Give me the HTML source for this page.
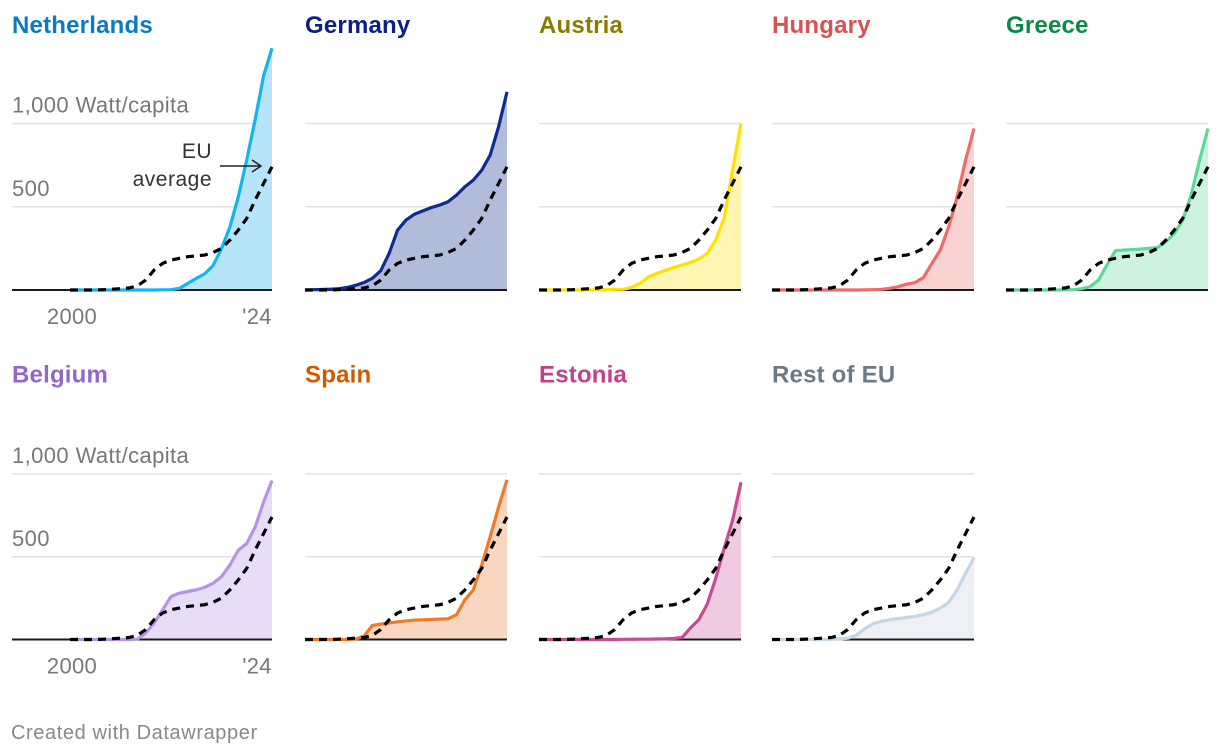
<!DOCTYPE html>
<html><head><meta charset="utf-8"><style>
body{margin:0;background:#fff;width:1220px;height:756px;overflow:hidden;font-family:"Liberation Sans",sans-serif}
svg{position:absolute;left:0;top:0}
</style></head><body>
<svg id="chart" width="1220" height="756"></svg>
<script>
const years = [2000,2001,2002,2003,2004,2005,2006,2007,2008,2009,2010,2011,2012,2013,2014,2015,2016,2017,2018,2019,2020,2021,2022,2023,2024];
const euAverage = [0,0,0,0,2,5,8,12,25,60,120,160,180,190,200,205,210,225,250,300,360,430,540,640,740];
const netherlands = [0,0,0,0,0,0,0,0,0,0,0,1,2,10,40,70,97,147,248,379,560,782,1024,1286,1452];
const germany = [0,2,3,5,8,15,28,45,70,116,220,360,420,455,475,495,510,530,570,620,660,720,810,980,1190];
const austria = [0,0,0,0,0,0,1,2,3,4,5,15,40,78,100,118,135,150,165,185,220,300,430,720,1000];
const hungary = [0,0,0,0,0,0,0,0,0,0,0,1,2,4,10,20,35,45,75,160,240,380,560,780,970];
const greece = [0,0,0,0,0,0,0,1,2,8,20,60,150,237,240,243,246,250,255,290,340,420,570,780,970];
const belgium = [0,0,0,0,0,0,0,0,2,40,100,180,260,280,290,300,315,340,380,450,540,580,680,830,960];
const spain = [0,0,0,0,0,0,2,20,85,93,100,107,112,117,119,121,123,125,150,240,300,450,620,800,965];
const estonia = [0,0,0,0,0,0,0,0,0,0,1,1,2,2,3,4,6,12,70,120,215,370,550,720,950];
const restOfEu = [0,0,0,0,0,0,0,1,3,8,25,65,95,110,120,127,133,140,150,165,190,225,300,400,495];
const gridTicks = [500,1000];
const tickLabels = ["500","1,000 Watt/capita"];
const xTickLabels = ["2000","'24"];

const panels = [
 {name:"Netherlands",data:netherlands,title:"#0a7bc1",line:"#12b4f2",fill:"#b6e5fa",col:0,row:0},
 {name:"Germany",data:germany,title:"#0b2181",line:"#0f2b8c",fill:"#b1bcdb",col:1,row:0},
 {name:"Austria",data:austria,title:"#8a7c00",line:"#ffe100",fill:"#fff5b3",col:2,row:0},
 {name:"Hungary",data:hungary,title:"#d75252",line:"#ee6b69",fill:"#f9d3d2",col:3,row:0},
 {name:"Greece",data:greece,title:"#0b8a47",line:"#5cd99a",fill:"#cdf2de",col:4,row:0},
 {name:"Belgium",data:belgium,title:"#9466c8",line:"#b594e6",fill:"#e8ddf6",col:0,row:1},
 {name:"Spain",data:spain,title:"#d05a00",line:"#f07a2a",fill:"#f9d6bf",col:1,row:1},
 {name:"Estonia",data:estonia,title:"#c43f8a",line:"#c54b92",fill:"#eecbe1",col:2,row:1},
 {name:"Rest of EU",data:restOfEu,title:"#6b7a85",line:"#c6d6e4",fill:"#edf1f5",col:3,row:1}
];
const NS="http://www.w3.org/2000/svg";
const svg=document.getElementById('chart');
function mk(tag,attrs,parent){const e=document.createElementNS(NS,tag);for(const k in attrs)e.setAttribute(k,attrs[k]);(parent||svg).appendChild(e);return e;}
const colX=[70,305,539,772,1006];
const rowBase=[290,639.5];
const rowScale=[0.1665,0.1655];
const PW=202;
panels.forEach(p=>{
  const g=mk('g',{});
  
  
  const x0=colX[p.col], base=rowBase[p.row], sc=rowScale[p.row];
  const xs=y=>x0+(y-years[0])/(years[years.length-1]-years[0])*PW;
  const ys=v=>base-v*sc;
  const gridStart = p.col===0?12:x0;
  const t=mk('text',{x:p.col===0?12:x0,y:base-257,'font-size':24,'font-weight':'bold','letter-spacing':0.2,fill:p.title},g);
  t.textContent=p.name;
  
  
  gridTicks.forEach((v,i)=>{
    const l=mk('line',{x1:gridStart,x2:x0+PW,y1:ys(v),y2:ys(v),stroke:'#e2e2e2','stroke-width':1.5},g);
    
    
    if(p.col===0){
      const tx=mk('text',{x:12,y:ys(v)-11,'font-size':22,'letter-spacing':0.4,fill:'#777'},g);
      tx.textContent=tickLabels[i];
      
      
    }
  });
  let d='M'+xs(years[0])+','+ys(0);
  p.data.forEach((v,i)=>{d+='L'+xs(years[i])+','+ys(v);});
  d+='L'+xs(years[years.length-1])+','+ys(0)+'Z';
  const a=mk('path',{d:d,fill:p.fill},g);
  
  
  const bl=mk('line',{x1:gridStart,x2:x0+PW,y1:base,y2:base,stroke:'#1a1a1a','stroke-width':2},g);
  
  
  const pts=p.data.map((v,i)=>xs(years[i])+','+ys(v)).join(' ');
  const ln=mk('polyline',{points:pts,fill:'none',stroke:p.line,'stroke-width':3.2,'stroke-linejoin':'round'},g);
  
  
  const ep=euAverage.map((v,i)=>xs(years[i])+','+ys(v)).join(' ');
  const el=mk('polyline',{points:ep,fill:'none',stroke:'#000','stroke-width':3.2,'stroke-dasharray':'8 6'},g);
  
  
  if(p.col===0){
    [years[0],years[years.length-1]].forEach((yr,i)=>{
      const tx=mk('text',{x:xs(yr)+(i==0?2:-15),y:base+34,'font-size':22,'letter-spacing':0.3,fill:'#777','text-anchor':'middle'},g);
      tx.textContent=xTickLabels[i];
      
      
    });
  }
});
// annotation
const an=mk('g',{});


const t1=mk('text',{x:212,y:158,'font-size':21,'letter-spacing':0.5,fill:'#333','text-anchor':'end'},an);t1.textContent='EU';
const t2=mk('text',{x:212,y:186,'font-size':21,'letter-spacing':0.5,fill:'#333','text-anchor':'end'},an);t2.textContent='average';
mk('line',{x1:220,x2:260,y1:166,y2:166,stroke:'#222','stroke-width':1.5},an);
mk('path',{d:'M252,160 L261,166 L252,172',fill:'none',stroke:'#222','stroke-width':1.5},an);
const ft=mk('text',{x:11,y:739,'font-size':20,'letter-spacing':0.6,fill:'#888'});
ft.textContent='Created with Datawrapper';


</script>
</body></html>
